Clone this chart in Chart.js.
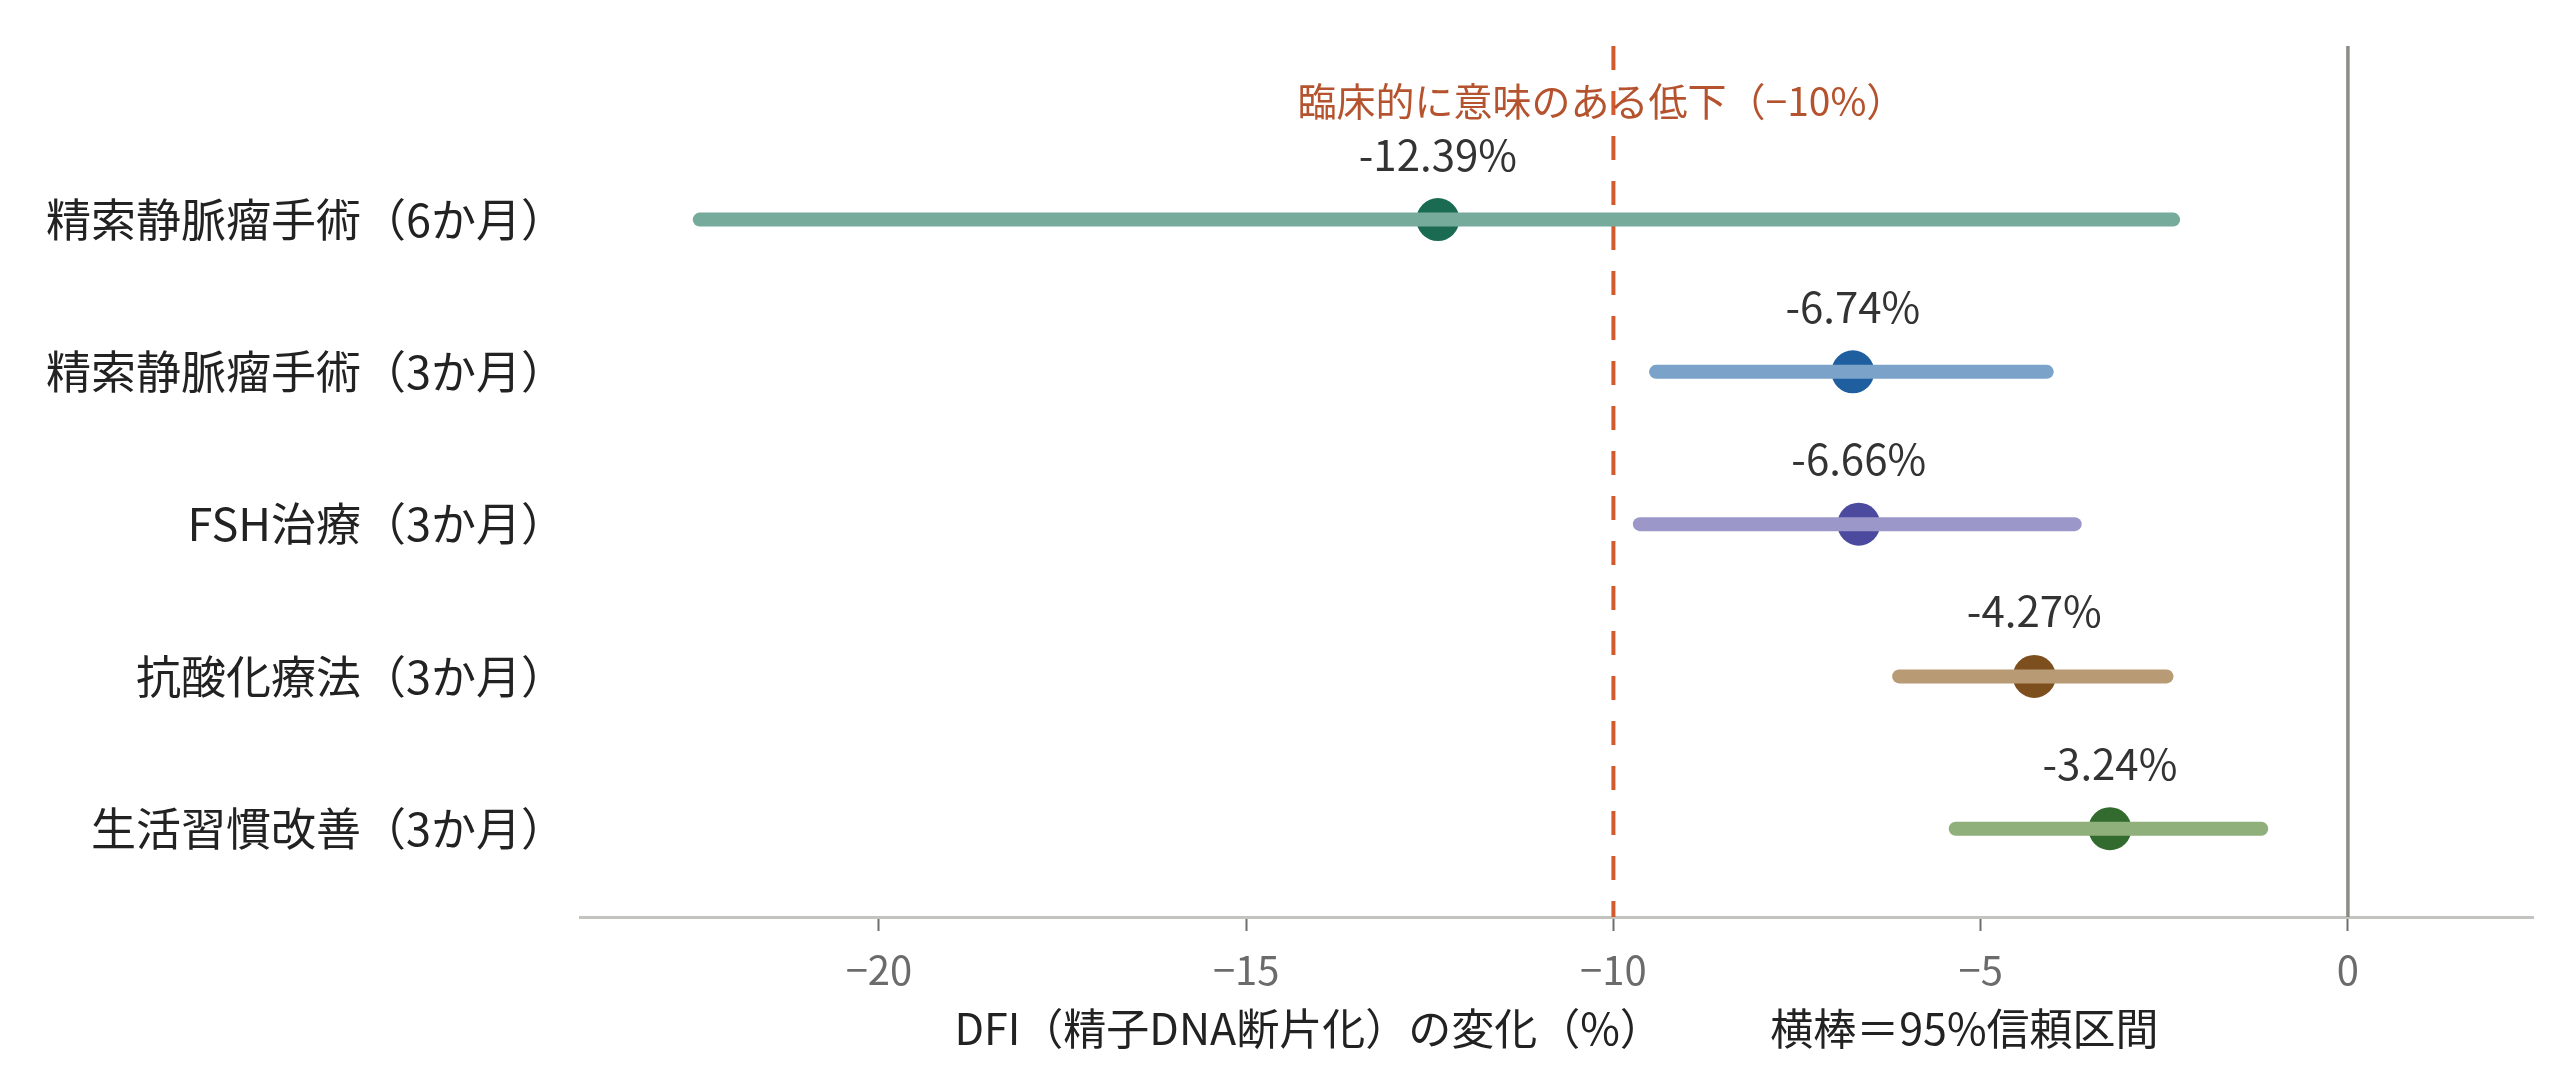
<!DOCTYPE html>
<html lang="ja">
<head>
<meta charset="utf-8">
<title>DFI forest plot</title>
<script src="https://cdn.jsdelivr.net/npm/chart.js@4.4.1/dist/chart.umd.min.js"></script>
<style>
  html, body { margin: 0; padding: 0; background: #fff; }
  #wrap { width: 2560px; height: 1073px; }
</style>
</head>
<body>
<div id="wrap"><canvas id="chart-canvas" width="2560" height="1073"></canvas></div>
<script>
const categories = [
  "精索静脈瘤手術（6か月）",
  "精索静脈瘤手術（3か月）",
  "FSH治療（3か月）",
  "抗酸化療法（3か月）",
  "生活習慣改善（3か月）",
];
const estimates = [-12.39, -6.74, -6.66, -4.27, -3.24];
const ciLower = [-22.44, -9.42, -9.64, -6.11, -5.34];
const ciUpper = [-2.38, -4.1, -3.72, -2.47, -1.18];
const xTicks = [-20, -15, -10, -5, 0];
const thresholdValue = -10;
const thresholdLabel = "臨床的に意味のある低下（−10%）";
const xTitle = "DFI（精子DNA断片化）の変化（%）　　　横棒＝95%信頼区間";

const lineColors = ["#76ab9b", "#7ba3c9", "#9c97c9", "#b89a74", "#8fb07a"];
const dotColors = ["#1a6b52", "#1f5fa0", "#4b4a9f", "#7d4f1e", "#336b2e"];
const FONT = "'Noto Sans CJK JP', 'Noto Sans', sans-serif";

function getDatasets() {
  const sets = categories.map((name, i) => ({
    label: name,
    data: [
      { x: ciLower[i], y: i },
      { x: ciUpper[i], y: i },
    ],
    showLine: true,
    borderColor: lineColors[i],
    borderWidth: 14,
    borderCapStyle: "round",
    pointRadius: 0,
  }));
  sets.push({
    label: "estimate",
    data: estimates.map((v, i) => ({ x: v, y: i })),
    backgroundColor: dotColors,
    borderWidth: 0,
    pointRadius: 21.5,
  });
  return sets;
}

const refLines = {
  id: "refLines",
  beforeDatasetsDraw(chart) {
    const { ctx, chartArea, scales } = chart;
    const xz = scales.x.getPixelForValue(0);
    const xt = scales.x.getPixelForValue(thresholdValue);
    ctx.save();
    ctx.strokeStyle = "#8c8c86";
    ctx.lineWidth = 3.5;
    ctx.beginPath();
    ctx.moveTo(xz, chartArea.top);
    ctx.lineTo(xz, chartArea.bottom);
    ctx.stroke();

    ctx.strokeStyle = "#d35a2d";
    ctx.lineWidth = 4;
    ctx.setLineDash([24, 21]);
    ctx.beginPath();
    ctx.moveTo(xt, chartArea.top);
    ctx.lineTo(xt, chartArea.bottom);
    ctx.stroke();
    ctx.setLineDash([]);

    ctx.fillStyle = "#b5532e";
    ctx.font = "39px " + FONT;
    ctx.textAlign = "center";
    ctx.textBaseline = "alphabetic";
    ctx.fillText(thresholdLabel, xt - 12, 116);
    ctx.restore();
  },
  afterDatasetsDraw(chart) {
    const { ctx, scales } = chart;
    ctx.save();
    ctx.fillStyle = "#333";
    ctx.font = "42px " + FONT;
    ctx.textAlign = "center";
    ctx.textBaseline = "alphabetic";
    estimates.forEach((v, i) => {
      const x = scales.x.getPixelForValue(v);
      const y = scales.y.getPixelForValue(i);
      ctx.fillText(v.toFixed(2) + "%", x, y - 49);
    });
    ctx.restore();
  },
};

function renderChart() {
  const ctx = document.getElementById("chart-canvas").getContext("2d");
  const config = {
    type: "scatter",
    data: { datasets: getDatasets() },
    options: {
      responsive: false,
      animation: false,
      devicePixelRatio: 1,
      layout: { padding: { top: 46, right: 27, bottom: 0, left: 0 } },
      plugins: {
        legend: { display: false },
        tooltip: { enabled: false },
      },
      scales: {
        x: {
          type: "linear",
          min: -24.07,
          max: 2.52,
          afterBuildTicks: (scale) => {
            scale.ticks = xTicks.map((v) => ({ value: v }));
          },
          afterFit: (scale) => {
            scale.height = 1073 - 917;
            scale.paddingLeft = 0;
            scale.paddingRight = 0;
          },
          border: { display: true, color: "#c3c3bf", width: 3 },
          grid: {
            drawOnChartArea: false,
            drawTicks: true,
            tickLength: 14,
            tickColor: "#6e6e6e",
            tickWidth: 2,
          },
          ticks: {
            padding: 15,
            color: "#6b6b6b",
            font: { family: FONT, size: 40 },
            callback: (v) => (v < 0 ? "\u2212" + Math.abs(v) : String(v)),
          },
          title: {
            display: true,
            text: xTitle,
            color: "#222",
            font: { family: FONT, size: 43 },
            padding: { top: 0, bottom: 19 },
          },
        },
        y: {
          type: "linear",
          reverse: true,
          min: -1.14,
          max: 4.58,
          afterBuildTicks: (scale) => {
            scale.ticks = categories.map((c, i) => ({ value: i }));
          },
          afterFit: (scale) => {
            scale.width = 580;
            scale.paddingTop = 0;
            scale.paddingBottom = 0;
          },
          border: { display: false },
          grid: { display: false, drawTicks: false },
          ticks: {
            padding: 14,
            color: "#222",
            font: { family: FONT, size: 45 },
            callback: (v) => categories[v] || "",
          },
        },
      },
    },
    plugins: [refLines],
  };
  return new Chart(ctx, config);
}

renderChart();
</script>
</body>
</html>
